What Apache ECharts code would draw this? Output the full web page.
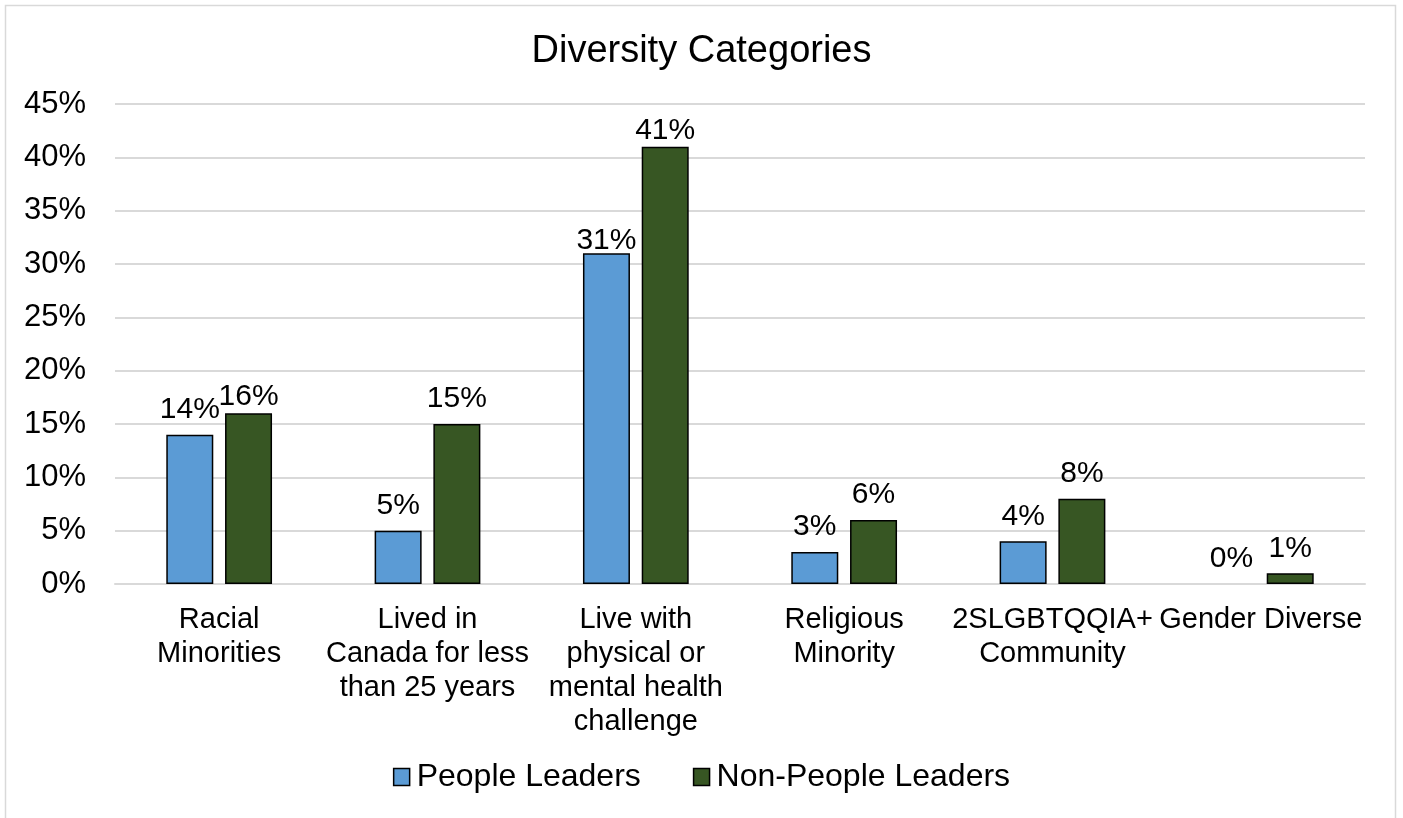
<!DOCTYPE html>
<html lang="en">
<head>
    <meta charset="UTF-8">
    <title>Diversity Categories</title>
    <script src="https://cdn.jsdelivr.net/npm/echarts@6/dist/echarts.min.js"></script>
    <style>
        html, body { margin: 0; padding: 0; background: #fff; }
        #main { width: 1403px; height: 818px; }
    </style>
</head>
<body>
    <div id="main"></div>
    <script type="text/javascript">
      // 数据
      var categories = [
        'Racial\nMinorities',
        'Lived in\nCanada for less\nthan 25 years',
        'Live with\nphysical or\nmental health\nchallenge',
        'Religious\nMinority',
        '2SLGBTQQIA+\nCommunity',
        'Gender Diverse'
      ];
      var peopleLeaders = [14, 5, 31, 3, 4, 0];
      var nonPeopleLeaders = [16, 15, 41, 6, 8, 1];
      var yTicks = [0, 5, 10, 15, 20, 25, 30, 35, 40, 45];

      // some labels sit a little closer to the bar in the original
      var blueShift = { 2: 12 };
      var greenShift = { 0: 8, 2: 9 };

      function withShift(values, shift) {
        return values.map(function (v, i) {
          var item = { value: v };
          if (shift[i]) item.label = { offset: [0, shift[i]] };
          if (v === 0) item.itemStyle = { borderWidth: 0 };   // no outline for an empty bar
          return item;
        });
      }

      var font = 'Liberation Sans, Arial, sans-serif';
      var myChart = echarts.init(document.getElementById('main'));

      var option = {
        animation: false,
        backgroundColor: '#fff',
        graphic: [{
          type: 'rect',
          shape: { x: 5.5, y: 5.5, width: 1390, height: 840 },
          style: { fill: 'none', stroke: '#d9d9d9', lineWidth: 1.5 },
          silent: true
        }],
        title: {
          text: 'Diversity Categories',
          left: 'center',
          top: 28,
          textStyle: { fontFamily: font, fontSize: 38, fontWeight: 'normal', color: '#000' }
        },
        legend: {
          bottom: 20,
          left: 'center',
          itemWidth: 16,
          itemHeight: 17,
          itemGap: 52,
          textStyle: { fontFamily: font, fontSize: 32, color: '#000', padding: [0, 0, 0, 2] },
          data: [
            { name: 'People Leaders', icon: 'rect', itemStyle: { borderColor: '#000', borderWidth: 1.5 } },
            { name: 'Non-People Leaders', icon: 'rect', itemStyle: { borderColor: '#000', borderWidth: 1.5 } }
          ]
        },
        grid: { left: 115, right: 38, top: 104, bottom: 234 },
        xAxis: {
          type: 'category',
          data: categories,
          axisLine: { show: true, lineStyle: { color: '#d9d9d9', width: 2 } },
          axisTick: { show: false },
          axisLabel: {
            interval: 0,
            margin: 19,
            fontFamily: font,
            fontSize: 29,
            lineHeight: 34,
            color: '#000'
          }
        },
        yAxis: {
          type: 'value',
          min: 0,
          max: 45,
          interval: 5,
          axisLine: { show: false },
          axisTick: { show: false },
          splitLine: { lineStyle: { color: '#d9d9d9', width: 2 } },
          axisLabel: {
            margin: 29,
            fontFamily: font,
            fontSize: 31,
            color: '#000',
            formatter: function (v) { return yTicks.indexOf(v) >= 0 ? v + '%' : ''; }
          }
        },
        series: [
          {
            name: 'People Leaders',
            type: 'bar',
            barWidth: 47,
            barGap: '25%',
            itemStyle: { color: '#5b9bd5', borderColor: '#000', borderWidth: 1.5 },
            label: {
              show: true,
              position: 'top',
              distance: 10,
              fontFamily: font,
              fontSize: 30,
              color: '#000',
              formatter: '{c}%'
            },
            data: withShift(peopleLeaders, blueShift)
          },
          {
            name: 'Non-People Leaders',
            type: 'bar',
            barWidth: 47,
            itemStyle: { color: '#375623', borderColor: '#000', borderWidth: 1.5 },
            label: {
              show: true,
              position: 'top',
              distance: 10,
              fontFamily: font,
              fontSize: 30,
              color: '#000',
              formatter: '{c}%'
            },
            data: withShift(nonPeopleLeaders, greenShift)
          }
        ]
      };

      myChart.setOption(option);
    </script>
</body>
</html>
